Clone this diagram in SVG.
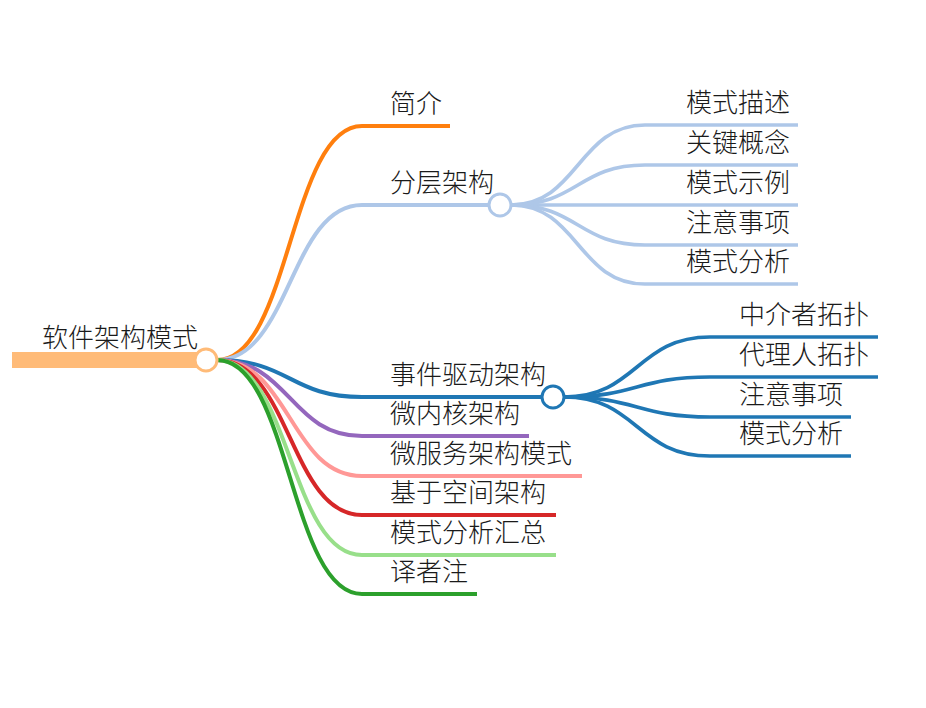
<svg xmlns="http://www.w3.org/2000/svg" width="926" height="708" viewBox="0 0 926 708">
<style>
text{font-family:"Noto Sans CJK SC","Liberation Sans",sans-serif;font-size:26px;font-weight:300;fill:#1a1a1a}
.l{fill:none;stroke-width:4}
.s{fill:none;stroke-width:3.6}
.c{fill:#fff;stroke-width:3}
</style>
<rect width="926" height="708" fill="#fff"/>
<g id="connectors">
<path class="l" stroke="#ff7f0e" d="M217,360 C290,360 290,126 362,126"/>
<path class="l" stroke="#aec7e8" d="M217,360 C290,360 290,205 362,205"/>
<path class="l" stroke="#1f77b4" d="M217,360 C290,360 290,397 362,397"/>
<path class="l" stroke="#9467bd" d="M217,360 C290,360 290,436 362,436"/>
<path class="l" stroke="#ff9896" d="M217,360 C290,360 290,476 362,476"/>
<path class="l" stroke="#d62728" d="M217,360 C290,360 290,515 362,515"/>
<path class="l" stroke="#98df8a" d="M217,360 C290,360 290,555 362,555"/>
<path class="l" stroke="#2ca02c" d="M217,360 C290,360 290,594 362,594"/>
<path class="s" stroke="#aec7e8" d="M511,205 C578,205 578,125 645,125"/>
<path class="s" stroke="#aec7e8" d="M511,205 C578,205 578,165 645,165"/>
<path class="s" stroke="#aec7e8" d="M511,205 C578,205 578,205 645,205"/>
<path class="s" stroke="#aec7e8" d="M511,205 C578,205 578,245 645,245"/>
<path class="s" stroke="#aec7e8" d="M511,205 C578,205 578,284 645,284"/>
<path class="s" stroke="#1f77b4" d="M564,397 C637,397 637,337 710,337"/>
<path class="s" stroke="#1f77b4" d="M564,397 C637,397 637,377 710,377"/>
<path class="s" stroke="#1f77b4" d="M564,397 C637,397 637,417 710,417"/>
<path class="s" stroke="#1f77b4" d="M564,397 C637,397 637,456 710,456"/>
</g>
<g id="root">
<rect x="12" y="352" width="194" height="16" fill="#ffbb78"/>
<circle class="c" cx="206" cy="360" r="11" stroke="#ffbb78"/>
<text x="42" y="347">软件架构模式</text>
</g>
<g id="n-intro">
<path class="l" stroke="#ff7f0e" d="M362,126 H450"/>
<text x="390" y="113">简介</text>
</g>
<g id="n-layered">
<path class="l" stroke="#aec7e8" d="M362,205 H490"/>
<circle class="c" cx="500" cy="205" r="11" stroke="#aec7e8"/>
<text x="390" y="192">分层架构</text>
</g>
<g id="n-layered-1"><path class="s" stroke="#aec7e8" d="M645,125 H798"/><text x="686" y="112">模式描述</text></g>
<g id="n-layered-2"><path class="s" stroke="#aec7e8" d="M645,165 H798"/><text x="686" y="152">关键概念</text></g>
<g id="n-layered-3"><path class="s" stroke="#aec7e8" d="M645,205 H798"/><text x="686" y="192">模式示例</text></g>
<g id="n-layered-4"><path class="s" stroke="#aec7e8" d="M645,245 H798"/><text x="686" y="232">注意事项</text></g>
<g id="n-layered-5"><path class="s" stroke="#aec7e8" d="M645,284 H798"/><text x="686" y="271">模式分析</text></g>
<g id="n-event">
<path class="l" stroke="#1f77b4" d="M362,397 H543"/>
<circle class="c" cx="553" cy="397" r="11" stroke="#1f77b4"/>
<text x="390" y="384">事件驱动架构</text>
</g>
<g id="n-event-1"><path class="s" stroke="#1f77b4" d="M710,337 H878"/><text x="739" y="324">中介者拓扑</text></g>
<g id="n-event-2"><path class="s" stroke="#1f77b4" d="M710,377 H878"/><text x="739" y="364">代理人拓扑</text></g>
<g id="n-event-3"><path class="s" stroke="#1f77b4" d="M710,417 H851"/><text x="739" y="404">注意事项</text></g>
<g id="n-event-4"><path class="s" stroke="#1f77b4" d="M710,456 H851"/><text x="739" y="443">模式分析</text></g>
<g id="n-microkernel"><path class="l" stroke="#9467bd" d="M362,436 H529"/><text x="390" y="423">微内核架构</text></g>
<g id="n-microservice"><path class="l" stroke="#ff9896" d="M362,476 H582"/><text x="390" y="463">微服务架构模式</text></g>
<g id="n-space"><path class="l" stroke="#d62728" d="M362,515 H556"/><text x="390" y="502">基于空间架构</text></g>
<g id="n-summary"><path class="l" stroke="#98df8a" d="M362,555 H556"/><text x="390" y="542">模式分析汇总</text></g>
<g id="n-notes"><path class="l" stroke="#2ca02c" d="M362,594 H477"/><text x="390" y="581">译者注</text></g>
</svg>
